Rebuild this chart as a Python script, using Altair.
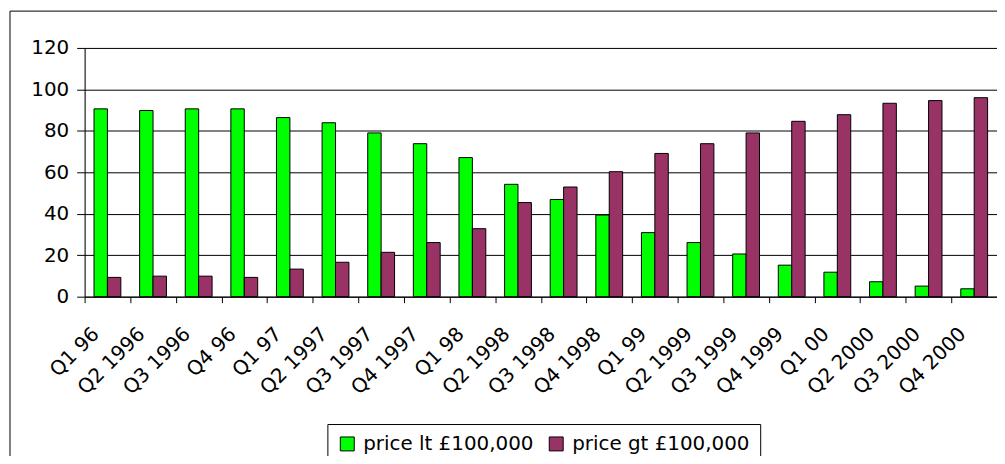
import altair as alt
import pandas as pd

quarters = ["Q1 96", "Q2 1996", "Q3 1996", "Q4 96", "Q1 97", "Q2 1997", "Q3 1997",
            "Q4 1997", "Q1 98", "Q2 1998", "Q3 1998", "Q4 1998", "Q1 99", "Q2 1999",
            "Q3 1999", "Q4 1999", "Q1 00", "Q2 2000", "Q3 2000", "Q4 2000"]
price_lt = [90.6, 89.8, 90.6, 90.6, 86.4, 83.9, 79.0, 73.8, 67.1, 54.2,
            46.9, 39.4, 30.9, 26.1, 20.6, 15.2, 11.8, 7.2, 5.1, 3.8]
price_gt = [9.3, 9.9, 9.9, 9.3, 13.3, 16.6, 21.4, 26.1, 32.8, 45.4,
            52.9, 60.3, 69.1, 73.8, 79.0, 84.6, 87.8, 93.3, 94.6, 96.0]
series_names = ["price lt £100,000", "price gt £100,000"]
series_colors = ["#00FF00", "#993366"]
y_ticks = [0, 20, 40, 60, 80, 100, 120]

rows = []
for i, q in enumerate(quarters):
    rows.append({"quarter": q, "series": series_names[0], "value": price_lt[i]})
    rows.append({"quarter": q, "series": series_names[1], "value": price_gt[i]})
df = pd.DataFrame(rows)

bars = alt.Chart(df).mark_bar(stroke="black", strokeWidth=1).encode(
    x=alt.X("quarter:N", sort=quarters,
            scale=alt.Scale(paddingInner=0, paddingOuter=0),
            axis=alt.Axis(title=None, labelAngle=-45, tickBand="extent",
                          labelFontSize=20, labelColor="black", tickColor="black",
                          domainColor="black", tickSize=6, labelPadding=21,
                          labelOffset=-19, grid=False)),
    xOffset=alt.XOffset("series:N", sort=series_names,
                        scale=alt.Scale(paddingInner=0, paddingOuter=0.7)),
    y=alt.Y("value:Q", scale=alt.Scale(domain=[0, 120]),
            axis=alt.Axis(title=None, values=y_ticks, labelFontSize=20,
                          labelColor="black", tickColor="black", domainColor="black",
                          tickSize=8, labelPadding=8, grid=True, gridColor="black",
                          gridOpacity=1)),
    color=alt.Color("series:N",
                    scale=alt.Scale(domain=series_names, range=series_colors),
                    legend=alt.Legend(title=None, orient="none", legendX=244, legendY=378,
                                      direction="horizontal", strokeColor="black",
                                      fillColor="white", padding=10, symbolType="square",
                                      symbolSize=196, symbolStrokeColor="black",
                                      symbolStrokeWidth=1, labelFontSize=20,
                                      labelColor="black", labelOffset=6, labelLimit=400,
                                      columnPadding=12, symbolOpacity=1)),
)

border_df = pd.DataFrame({"k": [0]})
top_rule = alt.Chart(border_df).mark_rule(color="black", strokeWidth=1).encode(
    x=alt.value(-75), x2=alt.value(920), y=alt.value(-37))
left_rule = alt.Chart(border_df).mark_rule(color="black", strokeWidth=1).encode(
    x=alt.value(-75), y=alt.value(-37), y2=alt.value(420))

chart = alt.layer(bars, top_rule, left_rule).properties(
    width=917, height=250,
    padding={"left": 77, "top": 39, "right": 0, "bottom": 159},
    autosize=alt.AutoSizeParams(type="none"),
).configure_view(stroke="#808080", strokeWidth=1).configure(font="DejaVu Sans")

chart.save("out.html", embed_options={"renderer": "svg", "actions": False})
